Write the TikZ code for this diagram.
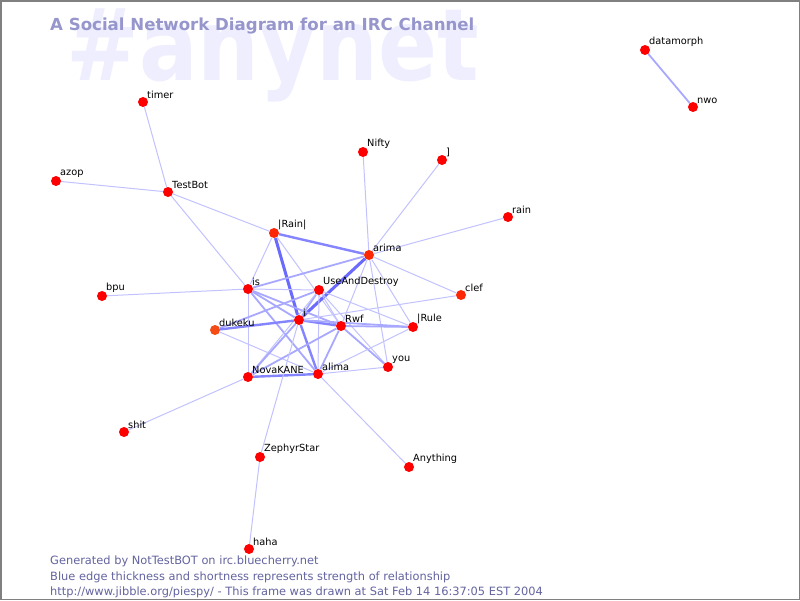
\documentclass[tikz,border=0pt]{standalone}
\usepackage{fontspec}
\setmainfont{DejaVu Sans}
\usetikzlibrary{calc,backgrounds}
\definecolor{peerred}{RGB}{255,0,0}
\definecolor{peerorange}{RGB}{245,75,20}
\definecolor{peermix}{RGB}{252,40,5}
\definecolor{tieblue}{RGB}{80,80,255}
\definecolor{titleblue}{RGB}{150,150,204}
\definecolor{markblue}{RGB}{238,238,255}
\definecolor{footblue}{RGB}{100,100,160}
\tikzset{
	peer/.style={circle, inner sep=0pt, minimum size=10pt},
	peerlabel/.style={font=\fontsize{9.8}{10}\selectfont, inner sep=0pt, anchor=south west},
	weak/.style={draw=tieblue!35, line width=1pt},
	mid/.style={draw=tieblue!50, line width=1.8pt},
	strong/.style={draw=tieblue!70, line width=2.4pt},
	strongest/.style={draw=tieblue!85, line width=3pt},
}
\newcommand{\drawpeers}[1]{
	\foreach \n/\x/\y/\t/\c in {#1} {
		\node[peer, fill=\c] (\n) at (\x,\y) {};
		\node[peerlabel] (\n-l) at ([xshift=4pt,yshift=3pt]\n.center) {\t};
	}
}
\newcommand{\drawties}[1]{
	\begin{scope}[on background layer]
		\foreach \a/\b/\s in {#1} {
			\draw[\s] (\a) -- (\b);
		}
	\end{scope}
}

\begin{document}
\begin{tikzpicture}[x=1pt,y=-1pt]
	\useasboundingbox (0,0) rectangle (800,600);
	\begin{scope}[on background layer]
		\fill[white] (0,0) rectangle (800,600);
		\node[text=markblue, font=\bfseries\fontsize{100}{100}\selectfont, inner sep=0pt, anchor=base west] (mark) at (66,80) {\scalebox{0.87}[1]{\#anynet}};
	\end{scope}
	\node[text=titleblue, font=\bfseries\fontsize{16.6}{18}\selectfont, inner sep=0pt, anchor=base west] (title) at (50,30) {A Social Network Diagram for an IRC Channel};
	\drawpeers{datamorph/645/50/datamorph/peerred, nwo/693/107/nwo/peerred,
		timer/143/102/timer/peerred, azop/56/181/azop/peerred,
		TestBot/168/192/TestBot/peerred, Nifty/363/152/Nifty/peerred,
		brk/442/160/{]}/peerred, rain/508/217/rain/peerred,
		Rainbar/274/233/{|Rain|}/peermix, arima/369/255/arima/peermix,
		bpu/102/296/bpu/peerred, is/248/289/is/peerred,
		UseAndDestroy/319/290/UseAndDestroy/peerred, clef/461/295/clef/peermix,
		dukeku/215/330/dukeku/peerorange, i/299/320/i/peerred,
		Rwf/341/326/Rwf/peerred, Rulebar/413/327/{|Rule}/peerred,
		you/388/367/you/peerred, NovaKANE/248/377/NovaKANE/peerred,
		alima/318/374/alima/peerred, shit/124/432/shit/peerred,
		ZephyrStar/260/457/ZephyrStar/peerred, Anything/409/467/Anything/peerred,
		haha/249/549/haha/peerred}
	\drawties{datamorph/nwo/mid, timer/TestBot/weak, azop/TestBot/weak,
		TestBot/Rainbar/weak, TestBot/is/weak, bpu/is/weak,
		Nifty/arima/weak, brk/arima/weak, rain/arima/weak,
		Rainbar/arima/strong, Rainbar/i/strongest, Rainbar/is/weak, Rainbar/Rwf/weak,
		arima/i/strongest, arima/is/mid, arima/Rwf/weak, arima/Rulebar/weak,
		arima/you/weak, arima/clef/weak,
		is/UseAndDestroy/weak, is/i/mid, is/Rwf/mid, is/alima/mid, is/NovaKANE/weak,
		UseAndDestroy/i/mid, UseAndDestroy/dukeku/mid, UseAndDestroy/alima/weak,
		UseAndDestroy/NovaKANE/weak, UseAndDestroy/you/weak, UseAndDestroy/Rulebar/weak,
		UseAndDestroy/Rwf/weak,
		dukeku/i/strong, dukeku/alima/weak,
		i/Rwf/strong, i/Rulebar/mid, i/alima/strong, i/NovaKANE/mid, i/clef/weak,
		Rwf/you/mid, Rwf/Rulebar/mid, Rwf/alima/mid, Rwf/NovaKANE/mid,
		alima/NovaKANE/strong, alima/you/weak, alima/Rulebar/weak, alima/Anything/weak,
		NovaKANE/shit/weak, ZephyrStar/i/weak, ZephyrStar/haha/weak}
	\foreach \k/\y/\t in {1/564/{Generated by NotTestBOT on irc.bluecherry.net},
		2/580/{Blue edge thickness and shortness represents strength of relationship},
		3/595/{http://www.jibble.org/piespy/ - This frame was drawn at Sat Feb 14 16:37:05 EST 2004}} {
		\node[text=footblue, font=\fontsize{11.4}{12}\selectfont, inner sep=0pt, anchor=base west] (foot\k) at (50,\y) {\t};
	}
	\draw[gray, line width=1.5pt] (0.75,0.75) rectangle (799.25,599.25);
\end{tikzpicture}
\end{document}
